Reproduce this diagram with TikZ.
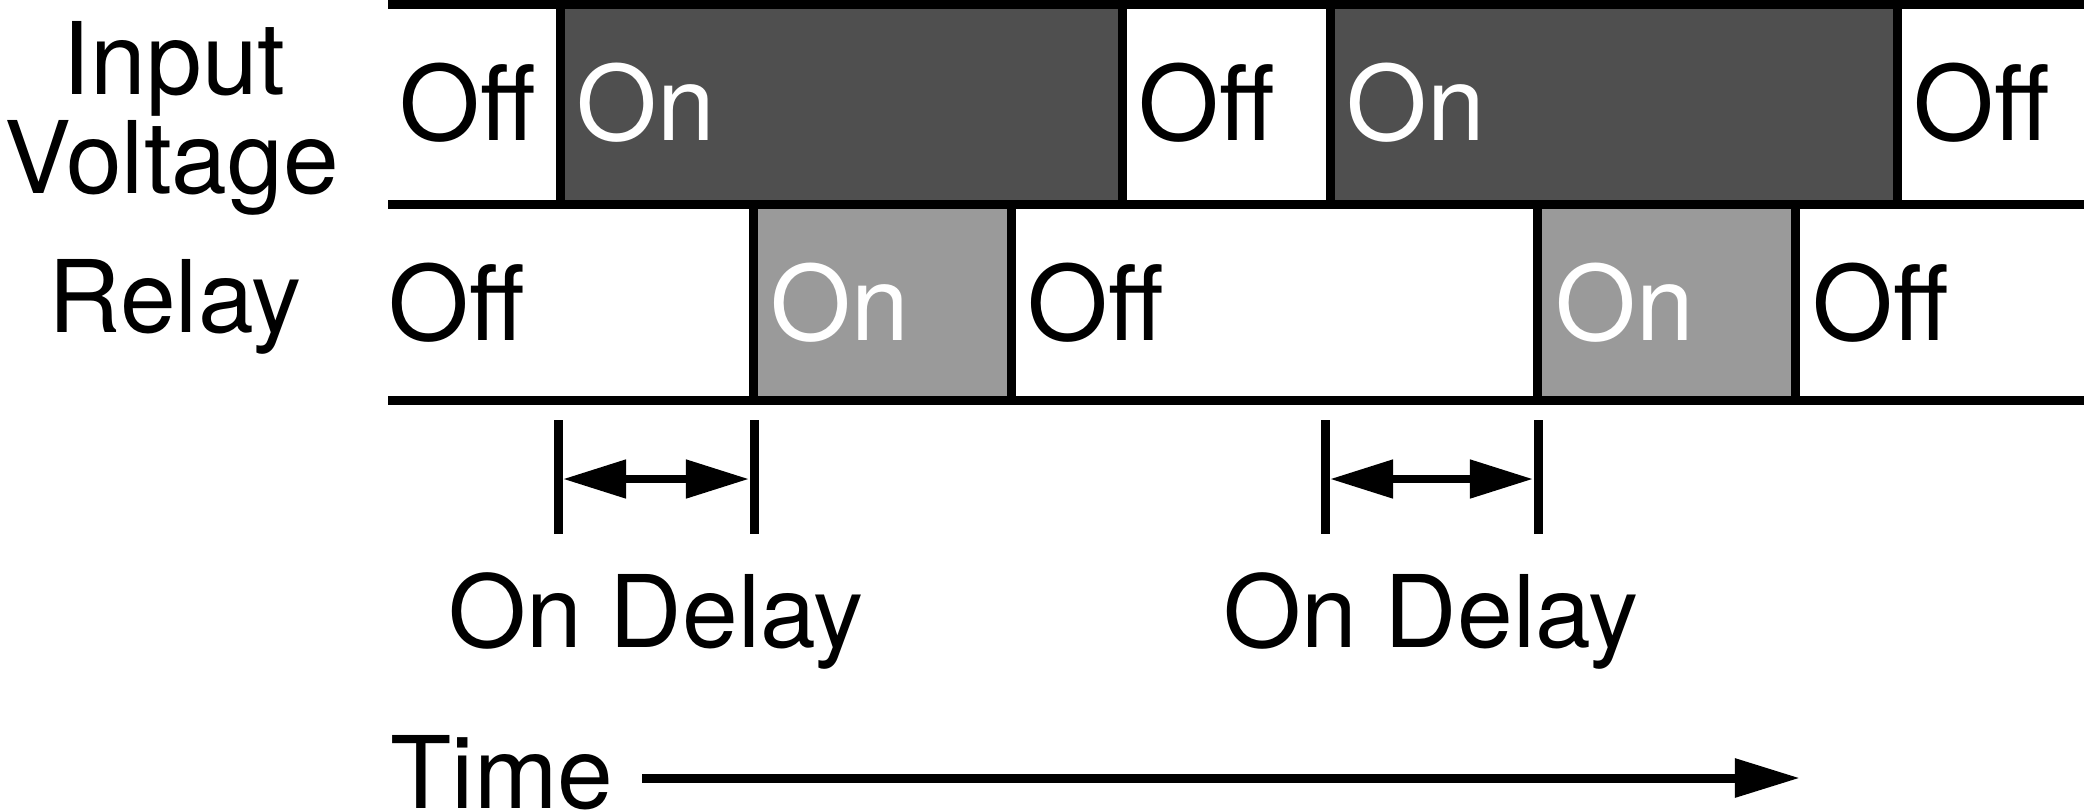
\documentclass[tikz,border=0pt]{standalone}
\usepackage{fontspec}
\setmainfont{TeX Gyre Heros}
\usetikzlibrary{arrows.meta}
\definecolor{ondark}{HTML}{4F4F4F}
\definecolor{onlight}{HTML}{9A9A9A}
\tikzset{
  state/.style={anchor=base west,inner sep=0pt,font=\fontsize{29.5}{35}\selectfont},
  rowname/.style={anchor=base,inner sep=0pt,font=\fontsize{28.5}{34}\selectfont},
  edge/.style={line width=0.09cm},
  dim/.style={line width=0.08cm,{Triangle[length=0.63cm,width=0.37cm]}-{Triangle[length=0.63cm,width=0.37cm]}},
}
\begin{document}
\begin{tikzpicture}[x=0.01cm,y=-0.01cm]
    \useasboundingbox (0,0) rectangle (2084,811);

    \def\ytop{4}
    \def\ymid{204}
    \def\ybot{400}

    %Color stuff:
    \fill[ondark] (560,\ytop) rectangle (1122,\ymid);
    \fill[ondark] (1330,\ytop) rectangle (1897,\ymid);
    \fill[onlight] (753,\ymid) rectangle (1011,\ybot);
    \fill[onlight] (1537,\ymid) rectangle (1795,\ybot);

    %draw edges:
    \foreach \x in {560,1122,1330,1897} \draw[edge] (\x,\ytop) -- (\x,\ymid);
    \foreach \x in {753,1011,1537,1795} \draw[edge] (\x,\ymid) -- (\x,\ybot);
    \foreach \y in {\ytop,\ymid,\ybot} \draw[edge] (388,\y) -- (2084,\y);

    %row names:
    \node[rowname] (inname) at (174,94) {Input};
    \node[rowname] (voltname) at (172,193) {Voltage};
    \node[rowname] (relayname) at (175,332) {Relay};

    %states:
    \node[state] (v1) at (399,140) {Off};
    \node[state,white] (v2) at (576,140) {On};
    \node[state] (v3) at (1138,140) {Off};
    \node[state,white] (v4) at (1346,140) {On};
    \node[state] (v5) at (1913,140) {Off};
    \node[state] (r1) at (388,340) {Off};
    \node[state,white] (r2) at (770,340) {On};
    \node[state] (r3) at (1027,340) {Off};
    \node[state,white] (r4) at (1555,340) {On};
    \node[state] (r5) at (1812,340) {Off};

    %delays:
    \foreach \x in {558,754,1325,1538} \draw[edge] (\x,420) -- (\x,534);
    \coordinate (d1l) at (563,479);
    \coordinate (d1r) at (749,479);
    \coordinate (d2l) at (1330,479);
    \coordinate (d2r) at (1533,479);
    \draw[dim] (d1l) -- (d1r);
    \draw[dim] (d2l) -- (d2r);
    \node[rowname] (delay1) at (656,647) {On Delay};
    \node[rowname] (delay2) at (1431,647) {On Delay};

    %time:
    \node[anchor=base west,inner sep=0pt,font=\fontsize{28.5}{34}\selectfont] (time) at (390,808) {Time};
    \coordinate (tstart) at (642,778);
    \coordinate (tend) at (1800,778);
    \draw[edge,-{Triangle[length=0.65cm,width=0.37cm]}] (tstart) -- (tend);

\end{tikzpicture}
\end{document}
